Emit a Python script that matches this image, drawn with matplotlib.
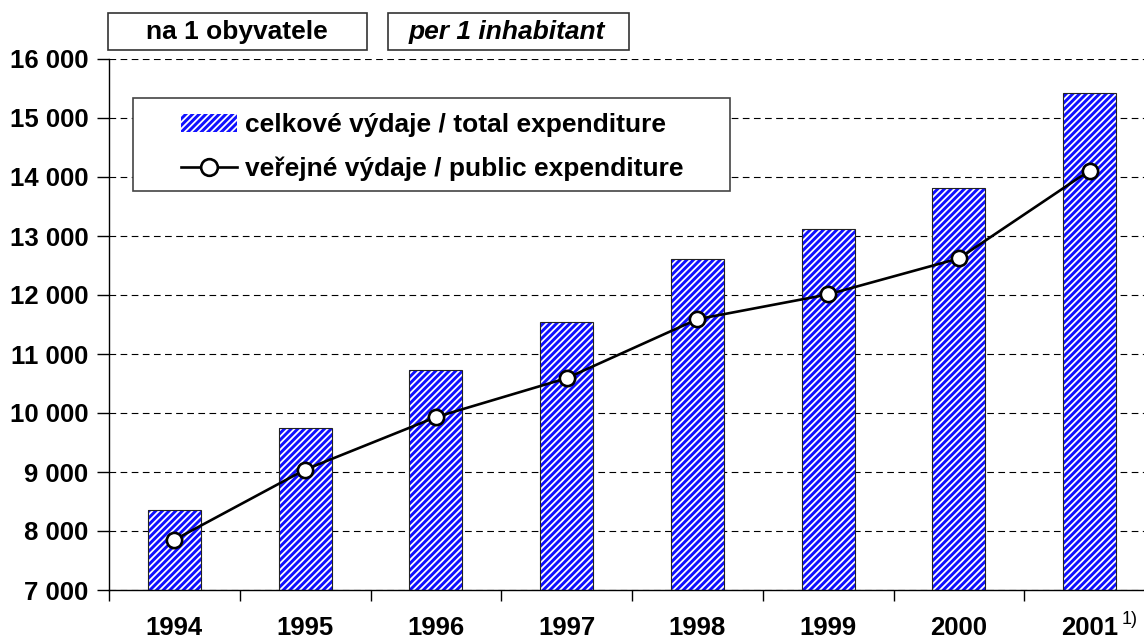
import matplotlib
matplotlib.use('Agg')
import matplotlib.pyplot as plt
from matplotlib.patches import Rectangle, Patch
from matplotlib.lines import Line2D

plt.rcParams['font.family'] = ['Liberation Sans', 'DejaVu Sans']
plt.rcParams['font.weight'] = 'bold'
plt.rcParams['hatch.linewidth'] = 2.1

# data
years = ['1994', '1995', '1996', '1997', '1998', '1999', '2000', '2001']
total_exp = [8360, 9750, 10730, 11540, 12610, 13120, 13810, 15430]
public_exp = [7850, 9040, 9930, 10590, 11590, 12010, 12620, 14110]
yticks = list(range(7000, 16001, 1000))

W, H = 1144, 642
fig = plt.figure(figsize=(W / 100, H / 100), dpi=100)

def fx(px):
    return px / W

def fy(py):
    return 1 - py / H

ax = fig.add_axes([fx(109), fy(590), fx(1155) - fx(109), fy(59) - fy(590)])

x = list(range(len(years)))
# hatched fill, then black outline
ax.bar(x, total_exp, width=0.405, bottom=0, facecolor='white', edgecolor='#1010ff',
       hatch='/////', linewidth=0, zorder=2)
ax.bar(x, total_exp, width=0.405, fill=False, edgecolor='#222222', linewidth=0.8, zorder=3)

ax.plot(x, public_exp, color='black', linewidth=1.9, marker='o', markersize=11,
        markerfacecolor='white', markeredgecolor='black', markeredgewidth=1.9, zorder=4)

ax.set_xlim(-0.5, len(years) - 0.5)
ax.set_ylim(7000, 16000)
ax.set_yticks(yticks)
ax.set_yticklabels([f'{v:,}'.replace(',', ' ') for v in yticks], fontsize=18.5)

ax.set_xticks([i - 0.5 for i in range(len(years) + 1)])
ax.set_xticklabels([])
ax.set_xticks(x, minor=True)
ax.set_xticklabels(years, minor=True, fontsize=18.5)
ax.tick_params(axis='x', which='major', direction='out', length=8, width=1)
ax.tick_params(axis='x', which='minor', length=0, pad=19)
ax.tick_params(axis='y', direction='out', length=9, width=1, pad=6)

ax.yaxis.grid(True, color='black', linewidth=0.8, linestyle=(0, (6, 4)))
ax.set_axisbelow(True)
for s in ['top', 'right']:
    ax.spines[s].set_visible(False)
ax.spines['left'].set_linewidth(1)
ax.spines['bottom'].set_linewidth(1)

# legend with separate frame
fig.add_artist(Rectangle((fx(133), fy(191)), fx(730) - fx(133), fy(98) - fy(191),
                         transform=fig.transFigure, facecolor='white',
                         edgecolor='#444444', linewidth=1.2, zorder=5))
handles = [Patch(facecolor='white', edgecolor='#1010ff', hatch='/////', linewidth=0),
           Line2D([], [], color='black', linewidth=1.9, marker='o', markersize=12,
                  markerfacecolor='white', markeredgewidth=1.9)]
leg = fig.legend(handles, ['celkové výdaje / total expenditure',
                           'veřejné výdaje / public expenditure'],
                 loc='upper left', bbox_to_anchor=(fx(181), fy(113)),
                 frameon=False, fontsize=19, borderpad=0, borderaxespad=0,
                 handlelength=2.12, handleheight=0.68, handletextpad=0.3,
                 labelspacing=0.74)
leg.set_zorder(6)

# header boxes
fig.add_artist(Rectangle((fx(108), fy(50)), fx(367) - fx(108), fy(13) - fy(50),
                         transform=fig.transFigure, facecolor='white',
                         edgecolor='#333333', linewidth=1.2))
fig.add_artist(Rectangle((fx(388), fy(50)), fx(629) - fx(388), fy(13) - fy(50),
                         transform=fig.transFigure, facecolor='white',
                         edgecolor='#333333', linewidth=1.2))
fig.text(fx(237), fy(32), 'na 1 obyvatele', fontsize=19, fontweight='bold',
         ha='center', va='center')
fig.text(fx(507), fy(32), 'per 1 inhabitant', fontsize=19, fontweight='bold',
         fontstyle='italic', ha='center', va='center')

fig.text(fx(1122), fy(620), '1)', fontsize=13, fontweight='normal',
         ha='left', va='center')

fig.savefig('out.png', dpi=100)
